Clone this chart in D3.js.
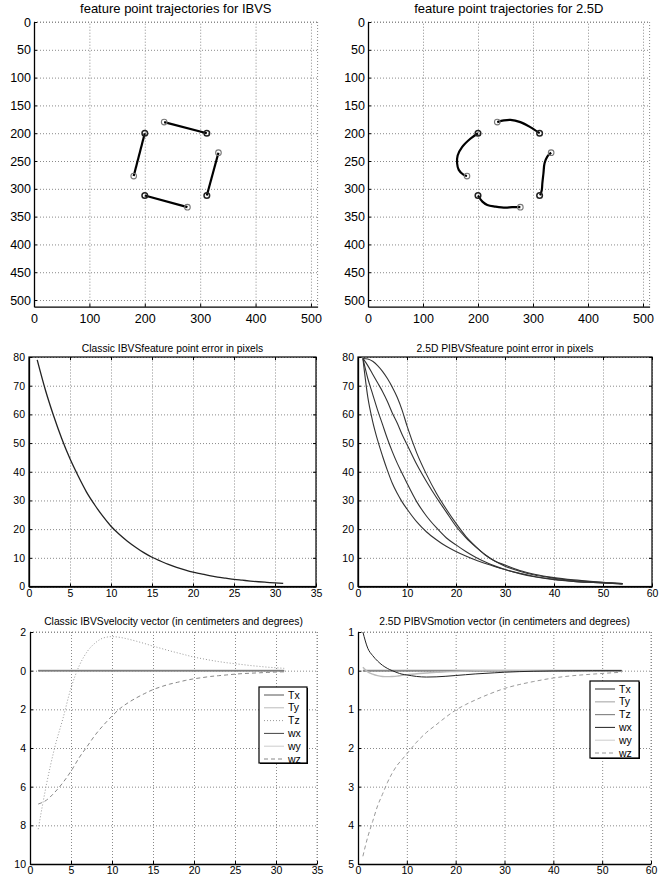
<!DOCTYPE html>
<html>
<head>
<meta charset="utf-8">
<script src="https://cdn.jsdelivr.net/npm/d3@7"></script>
<style>
  body { margin: 0; background: #fff; }
  svg text { font-family: "Liberation Sans", Arial, sans-serif; fill: #000; }
</style>
</head>
<body>
<svg id="fig" width="663" height="877"></svg>
<script>
// ---- data ----

// image-plane feature points (u, v in pixels)
const startPts = [[235,180],[333,235],[277,333],[180,277]];
const goalPts  = [[312,200],[312,312],[200,312],[200,200]];

// IBVS: straight paths
const ibvsTraj = [
  [[235,180],[312,200]],
  [[333,235],[312,312]],
  [[277,333],[200,312]],
  [[180,277],[200,200]]
];
// 2.5D: curved paths
const pbvsTraj = [
  [[235,180],[247,177],[259,176],[277,180],[295,189],[312,200]],
  [[333,235],[326,242],[321,254],[319,272],[317,290],[316,302],[313,312]],
  [[277,333],[262,333],[250,334],[232,332],[217,329],[208,323],[200,312]],
  [[180,277],[174,275],[165,266],[162,254],[163,240],[171,225],[186,210],[200,200]]
];

// feature error, classic IBVS (t = 1..31)
const tIbvs = d3.range(1, 32);
const errIbvs = [79,68.5,59.5,51.5,44.5,38.5,33,28.5,24.5,21,18.2,15.8,13.7,11.8,10.2,8.9,7.7,6.7,5.8,5.0,4.4,3.8,3.3,2.9,2.5,2.2,1.9,1.65,1.45,1.25,1.1];

// feature error, 2.5D (four points)
const tPb = [1,2,3,4,5,6,7,8,9,10,12,14,16,18,20,22,24,26,28,30,33,36,40,44,48,54];
const errPbA = [79.5,79.3,78.5,77,75,72.5,69.5,66,61.5,56,46.5,39,32.5,27,22,17.5,14,11,8.8,7.5,5.6,4.3,3.1,2.3,1.7,1.0];
const errPbB = [79.5,77,74,71,68,64.5,60.5,57,53,49.5,42.5,36.5,31,26,21,17,13.8,11,8.8,7.1,5.3,4.0,2.9,2.1,1.6,1.0];
const errPbC = [79.5,72.5,67,61.5,56.5,51.5,47,43,39.5,36,29.5,24.5,20.5,17,14.5,12.2,10.2,8.5,7.1,5.9,4.5,3.4,2.4,1.8,1.4,0.9];
const errPbD = [79.5,66,57.5,51,45.5,40.5,36,32.5,29.5,27,22.5,19,16.3,14,12.2,10.6,9.2,8,6.9,5.9,4.6,3.5,2.5,1.8,1.4,0.9];

// velocity, classic IBVS (t = 1..31)
const zeroIbvsT = [1, 31];
const zeroIbvs = [0, 0];
const tzIbvs = [-8.2,-5.9,-4.0,-2.5,-0.9,0.25,1.0,1.45,1.7,1.76,1.72,1.63,1.52,1.4,1.27,1.15,1.03,0.92,0.81,0.7,0.62,0.54,0.47,0.41,0.36,0.31,0.26,0.22,0.18,0.15,0.12];
const wzIbvs = [-6.9,-6.7,-6.3,-5.8,-5.2,-4.5,-3.9,-3.3,-2.8,-2.35,-1.95,-1.65,-1.4,-1.18,-0.98,-0.83,-0.7,-0.6,-0.5,-0.42,-0.36,-0.3,-0.26,-0.22,-0.18,-0.15,-0.13,-0.11,-0.09,-0.07,-0.06];

// motion, 2.5D
const zeroPbT = [1, 54];
const zeroPb = [0, 0];
const wxPb = [1.0,0.58,0.39,0.25,0.14,0.06,0.0,-0.05,-0.09,-0.11,-0.15,-0.165,-0.16,-0.145,-0.125,-0.105,-0.085,-0.07,-0.055,-0.04,-0.025,-0.015,-0.007,-0.003,0,0];
const tyPb = [0.09,-0.03,-0.09,-0.13,-0.15,-0.155,-0.15,-0.14,-0.12,-0.11,-0.08,-0.06,-0.04,-0.03,-0.02,-0.01,0,0,0,0,0,0,0,0,0,0];
const wzPb = [-4.8,-4.3,-3.9,-3.5,-3.2,-2.9,-2.65,-2.45,-2.3,-2.15,-1.85,-1.6,-1.4,-1.2,-1.02,-0.88,-0.76,-0.65,-0.55,-0.46,-0.36,-0.28,-0.19,-0.13,-0.09,-0.04];

// ticks
const imgTicks = [0,50,100,150,200,250,300,350,400,450,500];
const imgXTicks = [0,100,200,300,400,500];
const errYTicks = [0,10,20,30,40,50,60,70,80];
const xTicks35 = [0,5,10,15,20,25,30,35];
const xTicks60 = [0,10,20,30,40,50,60];
const velYTicks = [2,0,-2,-4,-6,-8,-10];
const velYLabels = ["2","0","2","4","6","8","10"];
const motYTicks = [1,0,-1,-2,-3,-4,-5];
const motYLabels = ["1","0","1","2","3","4","5"];
const legendNames = ["Tx","Ty","Tz","wx","wy","wz"];

// ---- drawing ----
const svg = d3.select('#fig');

function makePanel(c) {
  const x = d3.scaleLinear().domain(c.xDomain).range([c.left, c.right]);
  const y = d3.scaleLinear().domain(c.yDomain).range(c.yDown ? [c.top, c.bottom] : [c.bottom, c.top]);
  const w = c.right - c.left, h = c.bottom - c.top;
  const g = svg.append('g');

  // dotted grid
  g.append('g').attr('transform', `translate(0,${c.bottom})`)
    .call(d3.axisBottom(x).tickValues(c.xTicks).tickSize(-h).tickFormat(''))
    .call(s => s.select('.domain').remove())
    .selectAll('line').attr('stroke', '#8a8a8a').attr('stroke-dasharray', '1,2');
  g.append('g').attr('transform', `translate(${c.left},0)`)
    .call(d3.axisLeft(y).tickValues(c.yTicks).tickSize(-w).tickFormat(''))
    .call(s => s.select('.domain').remove())
    .selectAll('line').attr('stroke', '#8a8a8a').attr('stroke-dasharray', '1,2');

  if (c.box) {
    g.append('rect').attr('x', c.left).attr('y', c.top).attr('width', w).attr('height', h)
      .attr('fill', 'none').attr('stroke', '#000').attr('stroke-width', 1.2);
    g.append('g').attr('transform', `translate(0,${c.top})`)
      .call(d3.axisTop(x).tickValues(c.xTicks).tickSizeInner(-3).tickSizeOuter(0).tickFormat(''))
      .call(s => s.select('.domain').remove());
    g.append('g').attr('transform', `translate(${c.right},0)`)
      .call(d3.axisRight(y).tickValues(c.yTicks).tickSizeInner(-3).tickSizeOuter(0).tickFormat(''))
      .call(s => s.select('.domain').remove());
  } else {
    g.append('line').attr('x1', c.left).attr('x2', c.right).attr('y1', c.top).attr('y2', c.top)
      .attr('stroke', '#8a8a8a').attr('stroke-dasharray', '1,2');
    g.append('line').attr('x1', c.right).attr('x2', c.right).attr('y1', c.top).attr('y2', c.bottom)
      .attr('stroke', '#8a8a8a').attr('stroke-dasharray', '1,2');
  }

  const xa = g.append('g').attr('transform', `translate(0,${c.bottom})`)
    .call(d3.axisBottom(x).tickValues(c.xTicks).tickSizeInner(-3).tickSizeOuter(0).tickPadding(c.xPad));
  const ya = g.append('g').attr('transform', `translate(${c.left},0)`)
    .call(d3.axisLeft(y).tickValues(c.yTicks).tickSizeInner(-3).tickSizeOuter(0).tickPadding(c.yPad)
      .tickFormat(c.yLabels ? (d, i) => c.yLabels[i] : d3.format('d')));
  [xa, ya].forEach(a => {
    a.attr('font-family', null).attr('font-size', c.tickSize);
    a.select('.domain').attr('stroke', '#000').attr('stroke-width', 1.3);
    a.selectAll('.tick line').attr('stroke', '#000');
  });
  g.selectAll('.tick text').attr('fill', '#000');

  g.append('text').attr('x', (c.left + c.right) / 2).attr('y', c.titleY)
    .attr('text-anchor', 'middle').attr('font-size', c.titleSize).text(c.title);

  return { g, x, y };
}

function drawTraj(p, paths, curved) {
  const line = d3.line().x(d => p.x(d[0])).y(d => p.y(d[1]));
  if (curved) line.curve(d3.curveCatmullRom.alpha(0.5));
  p.g.selectAll('.traj').data(paths).join('path').attr('class', 'traj')
    .attr('d', line).attr('fill', 'none').attr('stroke', '#000').attr('stroke-width', 2.2);
  p.g.selectAll('.sp').data(startPts).join('circle').attr('class', 'sp')
    .attr('cx', d => p.x(d[0])).attr('cy', d => p.y(d[1])).attr('r', 2.8)
    .attr('fill', 'none').attr('stroke', '#777').attr('stroke-width', 1.1);
  p.g.selectAll('.gp').data(goalPts).join('circle').attr('class', 'gp')
    .attr('cx', d => p.x(d[0])).attr('cy', d => p.y(d[1])).attr('r', 2.8)
    .attr('fill', 'none').attr('stroke', '#222').attr('stroke-width', 1.5);
}

function drawSeries(p, t, v, style) {
  const line = d3.line().x((d, i) => p.x(t[i])).y(d => p.y(d)).curve(d3.curveMonotoneX);
  p.g.append('path').datum(v).attr('d', line).attr('fill', 'none')
    .attr('stroke', style.color).attr('stroke-width', style.width || 1)
    .attr('stroke-dasharray', style.dash || null);
}

function drawLegend(p, box, styles) {
  const lg = p.g.append('g');
  lg.append('rect').attr('x', box.x + 1).attr('y', box.y + 1).attr('width', box.w).attr('height', box.h).attr('fill', '#000');
  lg.append('rect').attr('x', box.x).attr('y', box.y).attr('width', box.w).attr('height', box.h)
    .attr('fill', '#fff').attr('stroke', '#000').attr('stroke-width', 1.2);
  const row = lg.selectAll('.row').data(legendNames).join('g')
    .attr('transform', (d, i) => `translate(${box.x},${box.y + 8 + i * 12.8})`);
  row.append('line').attr('x1', 5).attr('x2', 25).attr('y1', 0).attr('y2', 0)
    .attr('stroke', (d, i) => styles[i].color).attr('stroke-width', (d, i) => styles[i].width || 1)
    .attr('stroke-dasharray', (d, i) => styles[i].dash || null);
  row.append('text').attr('x', 29).attr('y', 3.5).attr('font-size', 10.5).text(d => d);
}

// top row: image-plane trajectories
const pTL = makePanel({ left: 34, right: 317.6, top: 22, bottom: 306.7, xDomain: [0,512], yDomain: [0,512], yDown: true,
  xTicks: imgXTicks, yTicks: imgTicks, xPad: 7, yPad: 3, tickSize: 12.5, box: false,
  title: 'feature point trajectories for IBVS', titleY: 13, titleSize: 13 });
drawTraj(pTL, ibvsTraj, false);

const pTR = makePanel({ left: 368, right: 649.6, top: 22, bottom: 306.7, xDomain: [0,512], yDomain: [0,512], yDown: true,
  xTicks: imgXTicks, yTicks: imgTicks, xPad: 7, yPad: 3, tickSize: 12.5, box: false,
  title: 'feature point trajectories for 2.5D', titleY: 13, titleSize: 13 });
drawTraj(pTR, pbvsTraj, true);

// middle row: pixel error
const pML = makePanel({ left: 29, right: 316, top: 357, bottom: 586.5, xDomain: [0,35], yDomain: [0,80],
  xTicks: xTicks35, yTicks: errYTicks, xPad: 3, yPad: 4, tickSize: 10.5, box: true,
  title: 'Classic IBVSfeature point error in pixels', titleY: 352, titleSize: 10.3 });
drawSeries(pML, tIbvs, errIbvs, { color: '#222', width: 1.3 });

const pMR = makePanel({ left: 358, right: 652, top: 357, bottom: 586.5, xDomain: [0,60], yDomain: [0,80],
  xTicks: xTicks60, yTicks: errYTicks, xPad: 3, yPad: 4, tickSize: 10.5, box: true,
  title: '2.5D PIBVSfeature point error in pixels', titleY: 352, titleSize: 10.3 });
[errPbA, errPbB, errPbC, errPbD].forEach(v => drawSeries(pMR, tPb, v, { color: '#333', width: 1.1 }));

// bottom row: velocity screws
const ibvsStyles = [
  { color: '#555' }, { color: '#bbb' }, { color: '#999', dash: '1,2' },
  { color: '#444' }, { color: '#ccc' }, { color: '#888', dash: '4,3' }
];
const pBL = makePanel({ left: 30, right: 317, top: 632, bottom: 864, xDomain: [0,35], yDomain: [-10,2],
  xTicks: xTicks35, yTicks: velYTicks, yLabels: velYLabels, xPad: 3, yPad: 4, tickSize: 10.5, box: false,
  title: 'Classic IBVSvelocity vector (in centimeters and degrees)', titleY: 625, titleSize: 10.3 });
drawSeries(pBL, zeroIbvsT, zeroIbvs, { color: '#999', width: 2 });
drawSeries(pBL, zeroIbvsT, zeroIbvs, { color: '#777', width: 1 });
drawSeries(pBL, tIbvs, tzIbvs, ibvsStyles[2]);
drawSeries(pBL, tIbvs, wzIbvs, ibvsStyles[5]);
drawLegend(pBL, { x: 259, y: 687, w: 48, h: 76 }, ibvsStyles);

const pbStyles = [
  { color: '#666', width: 1.4 }, { color: '#bbb', width: 1.4 }, { color: '#888', width: 1.2 },
  { color: '#222' }, { color: '#ccc' }, { color: '#999', dash: '4,3' }
];
const pBR = makePanel({ left: 358, right: 651, top: 632, bottom: 864, xDomain: [0,60], yDomain: [-5,1],
  xTicks: xTicks60, yTicks: motYTicks, yLabels: motYLabels, xPad: 3, yPad: 4, tickSize: 10.5, box: false,
  title: '2.5D PIBVSmotion vector (in centimeters and degrees)', titleY: 625, titleSize: 10.3 });
drawSeries(pBR, zeroPbT, zeroPb, { color: '#888', width: 2 });
drawSeries(pBR, tPb, tyPb, pbStyles[1]);
drawSeries(pBR, tPb, wxPb, pbStyles[3]);
drawSeries(pBR, tPb, wzPb, pbStyles[5]);
drawLegend(pBR, { x: 590, y: 681, w: 49, h: 77 }, pbStyles);
</script>
</body>
</html>
